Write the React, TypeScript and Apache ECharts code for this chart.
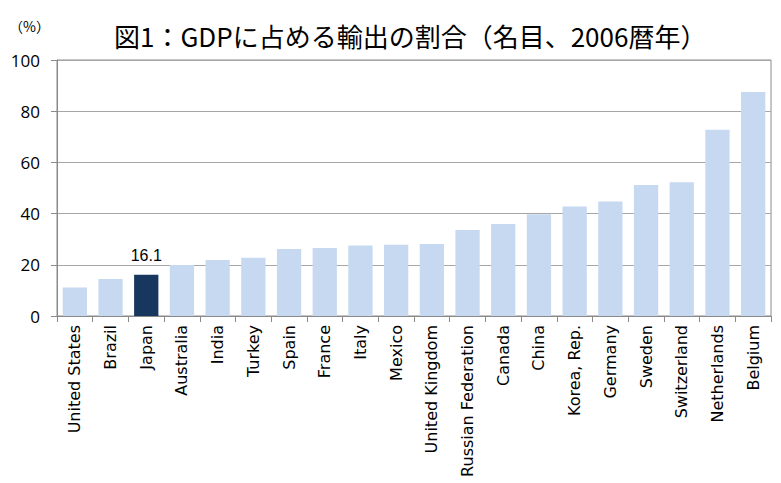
import React, { useEffect, useRef } from "react";
import * as echarts from "echarts";

const categories = [
  "United States", "Brazil", "Japan", "Australia", "India", "Turkey", "Spain", "France", "Italy", "Mexico",
  "United Kingdom", "Russian Federation", "Canada", "China", "Korea, Rep.", "Germany", "Sweden", "Switzerland",
  "Netherlands", "Belgium",
];
const values = [11.1, 14.5, 16.1, 19.9, 21.9, 22.8, 26.2, 26.6, 27.5, 27.8, 28.1, 33.6, 35.9, 39.7, 42.8, 44.7, 51.2, 52.2, 72.8, 87.5];
const highlight = "Japan";
const titleText = "図1：GDPに占める輸出の割合（名目、2006暦年）";
const unitText = "（%）";

export default function App() {
  const ref = useRef<HTMLDivElement>(null);
  useEffect(() => {
    if (!ref.current) return;
    const chart = echarts.init(ref.current, null, { renderer: "svg" });
    chart.setOption({
      animation: false,
      backgroundColor: "#ffffff",
      title: {
        text: titleText,
        left: 109,
        top: 17,
        textStyle: { fontFamily: "Noto Sans CJK JP", fontSize: 26, fontWeight: "normal", color: "#000" },
      },
      graphic: [
        {
          type: "text",
          left: 9,
          top: 19,
          style: { text: unitText, fontFamily: "Noto Sans CJK JP", fontSize: 14, fill: "#000" },
        },
      ],
      grid: {
        left: 57,
        right: 10,
        top: 60,
        bottom: 167,
        show: true,
        borderColor: "#8a8a8a",
        borderWidth: 1,
      },
      xAxis: {
        type: "category",
        data: categories,
        axisLine: { lineStyle: { color: "#8a8a8a" } },
        axisTick: { show: true, length: 6, lineStyle: { color: "#8a8a8a" } },
        axisLabel: {
          rotate: 90,
          interval: 0,
          fontFamily: "DejaVu Sans",
          fontSize: 16,
          color: "#000",
          margin: 9,
        },
      },
      yAxis: {
        type: "value",
        min: 0,
        max: 100,
        interval: 20,
        axisLine: { show: true, lineStyle: { color: "#8a8a8a" } },
        axisTick: { show: true, length: 6, lineStyle: { color: "#8a8a8a" } },
        axisLabel: { fontFamily: "Open Sans", fontSize: 17, color: "#000", margin: 17 },
        splitLine: { lineStyle: { color: "#a6a6a6" } },
      },
      series: [
        {
          type: "bar",
          barCategoryGap: "32%",
          data: categories.map((c, i) => ({
            value: values[i],
            itemStyle: { color: c === highlight ? "#17375e" : "#c6d9f1" },
            label:
              c === highlight
                ? { show: true, position: "top", fontFamily: "Liberation Sans", fontSize: 16, color: "#000", distance: 11 }
                : { show: false },
          })),
        },
      ],
    });
    return () => chart.dispose();
  }, []);
  return <div ref={ref} style={{ position: "fixed", left: 0, top: 0, width: 781, height: 483 }} />;
}
